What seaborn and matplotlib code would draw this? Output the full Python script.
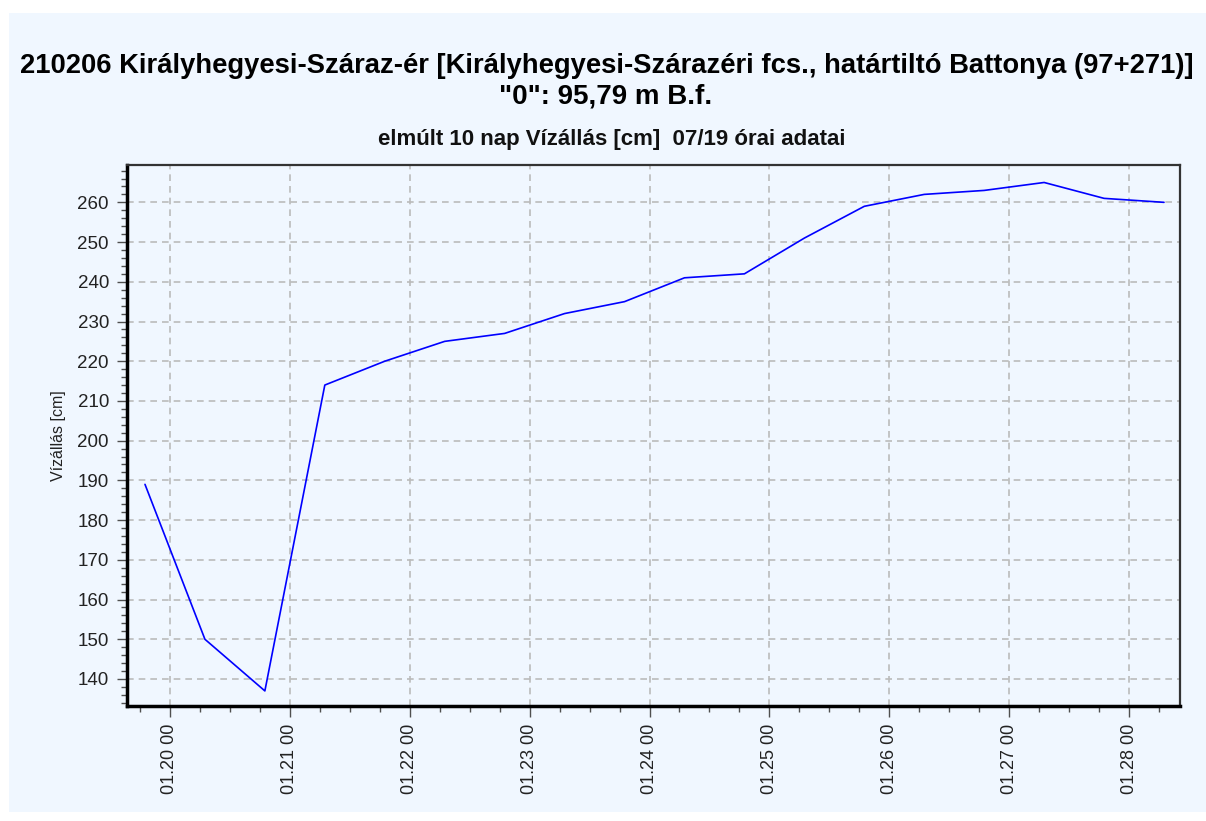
import numpy as np
import pandas as pd
import matplotlib
matplotlib.use("Agg")
import matplotlib.pyplot as plt
import matplotlib.dates as mdates
from matplotlib.ticker import MultipleLocator
from matplotlib.patches import Rectangle
import seaborn as sns

sns.set_style("whitegrid")
plt.rcParams['font.family'] = ['Liberation Sans', 'DejaVu Sans']

# Water level readings (07 and 19 o'clock)
times = ["2021-01-19 19:00", "2021-01-20 07:00", "2021-01-20 19:00",
         "2021-01-21 07:00", "2021-01-21 19:00", "2021-01-22 07:00",
         "2021-01-22 19:00", "2021-01-23 07:00", "2021-01-23 19:00",
         "2021-01-24 07:00", "2021-01-24 19:00", "2021-01-25 07:00",
         "2021-01-25 19:00", "2021-01-26 07:00", "2021-01-26 19:00",
         "2021-01-27 07:00", "2021-01-27 19:00", "2021-01-28 07:00"]
levels = [189, 150, 137, 214, 220, 225, 227, 232, 235, 241, 242, 251,
          259, 262, 263, 265, 261, 260]
y_ticks = list(range(140, 261, 10))

title_main = "210206 Királyhegyesi-Száraz-ér [Királyhegyesi-Szárazéri fcs., határtiltó Battonya (97+271)]"
title_zero = '"0": 95,79 m B.f.'
subtitle = "elmúlt 10 nap Vízállás [cm]  07/19 órai adatai"
ylabel = "Vízállás [cm]"

df = pd.DataFrame({'time': pd.to_datetime(times), 'level': levels})

bg = "#F0F7FF"
W, H = 1206, 821
fig = plt.figure(figsize=(W/100, H/100), dpi=100, facecolor="white")
fig.patches.append(Rectangle((9/W, 9/H), 1 - 9/W, 1 - 22/H, transform=fig.transFigure,
                             facecolor=bg, edgecolor="none", zorder=-5))

ax = fig.add_axes([127/W, 1 - 706/H, 1053/W, 541/H])
ax.set_facecolor(bg)
sns.lineplot(data=df, x='time', y='level', color='#0000FF', linewidth=1.2, ax=ax)

ax.set_xlim(pd.Timestamp("2021-01-19 15:24"), pd.Timestamp("2021-01-28 10:12"))
ax.set_ylim(133.2, 269.4)

ax.xaxis.set_major_locator(mdates.DayLocator())
ax.xaxis.set_minor_locator(mdates.HourLocator(byhour=[6, 12, 18]))
ax.xaxis.set_major_formatter(mdates.DateFormatter("%m.%d %H"))
ax.set_yticks(y_ticks)
ax.yaxis.set_minor_locator(MultipleLocator(2))

ax.grid(True, which='major', color='#BBBBBB', linestyle=(0, (4, 3)), linewidth=1.2)
ax.grid(False, which='minor')

ax.tick_params(axis='both', which='both', bottom=True, left=True, color='#505050', width=1)
ax.tick_params(axis='x', which='major', length=8, pad=5, labelsize=13, labelrotation=90,
               labelcolor='#222222')
ax.tick_params(axis='y', which='major', length=7, pad=6, labelsize=13.5, labelcolor='#222222')
ax.tick_params(axis='both', which='minor', length=4)

for side in ['left', 'bottom']:
    ax.spines[side].set_color('black')
    ax.spines[side].set_linewidth(2.5)
for side in ['top', 'right']:
    ax.spines[side].set_color('#333333')
    ax.spines[side].set_linewidth(1.6)

ax.set_xlabel("")
ax.set_ylabel(ylabel, fontsize=11.5, color='#222222', labelpad=8)

fig.text(20/W, 1 - 66/H, title_main, ha='left', va='center', fontsize=19.7, fontweight='bold',
         color='black')
fig.text(606/W, 1 - 97/H, title_zero, ha='center', va='center', fontsize=20, fontweight='bold',
         color='black')
fig.text(612/W, 1 - 139/H, subtitle, ha='center', va='center', fontsize=16, fontweight='bold',
         color='#111111')

fig.savefig("out.png", dpi=100, facecolor=fig.get_facecolor())
